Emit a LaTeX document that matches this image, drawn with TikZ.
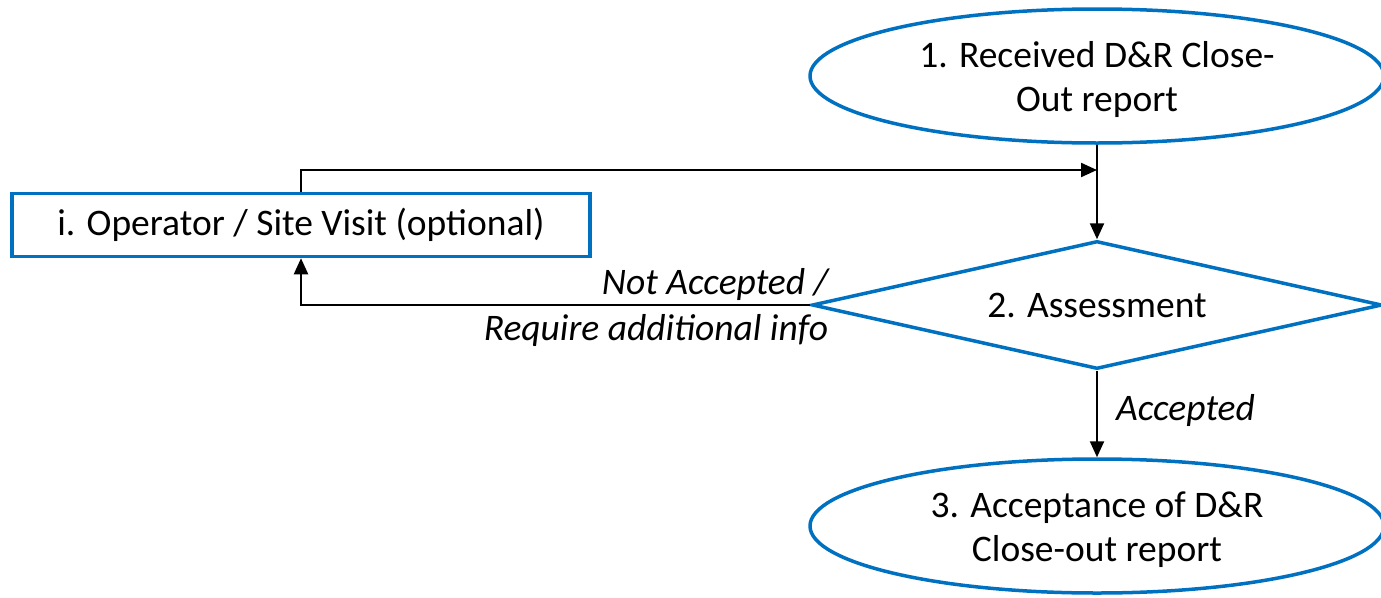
\documentclass[tikz,border=0pt]{standalone}
\usepackage{fontspec}
\setmainfont{Carlito}
\usetikzlibrary{shapes.geometric,arrows.meta}
\definecolor{boxblue}{HTML}{0070C0}
\newcommand{\dn}[1]{\raisebox{-4pt}[\height][\depth]{#1}}
\begin{document}
\begin{tikzpicture}[x=1pt,y=-1pt,
  every node/.style={font=\fontsize{37.5}{44}\selectfont, text=black},
  oval/.style={ellipse, draw=boxblue, line width=3.5pt, minimum width=574pt, minimum height=134pt, inner sep=0pt, align=center},
  dia/.style={diamond, aspect=4.45, draw=boxblue, line width=3.5pt, minimum width=570pt, minimum height=128pt, inner sep=0pt},
  box/.style={rectangle, draw=boxblue, line width=3.5pt, minimum width=578pt, minimum height=63pt, inner sep=0pt},
  conn/.style={draw=black, line width=2.2pt, -{Triangle[length=16pt,width=14pt]}},
  lbl/.style={font=\fontsize{37.5}{46}\selectfont\itshape, align=right, inner sep=0pt}
]
\useasboundingbox (0,0) rectangle (1381,597);
\clip (0,0) rectangle (1381,597);
\node[oval] (rec) at (1097,76) {\dn{1. Received D\&R Close-}\\\dn{Out report}};
\node[dia] (ass) at (1097,305) {2. Assessment};
\node[oval] (acc) at (1097,526) {\dn{3. Acceptance of D\&R}\\\dn{Close-out report}};
\node[box] (op) at (301,225) {i. Operator / Site Visit (optional)};
\coordinate (join) at (1097,170);
\draw[conn] (rec.south) -- (ass.north);
\draw[conn] (op.north) |- (join);
\draw[conn] (ass.west) -| (op.south)
  node[lbl, pos=0, anchor=east, xshift=19pt, yshift=-2pt] {Not Accepted /\\Require additional info};
\draw[conn] (ass.south) -- (acc.north)
  node[lbl, midway, anchor=west, xshift=18pt, yshift=4pt] {Accepted};
\end{tikzpicture}
\end{document}
